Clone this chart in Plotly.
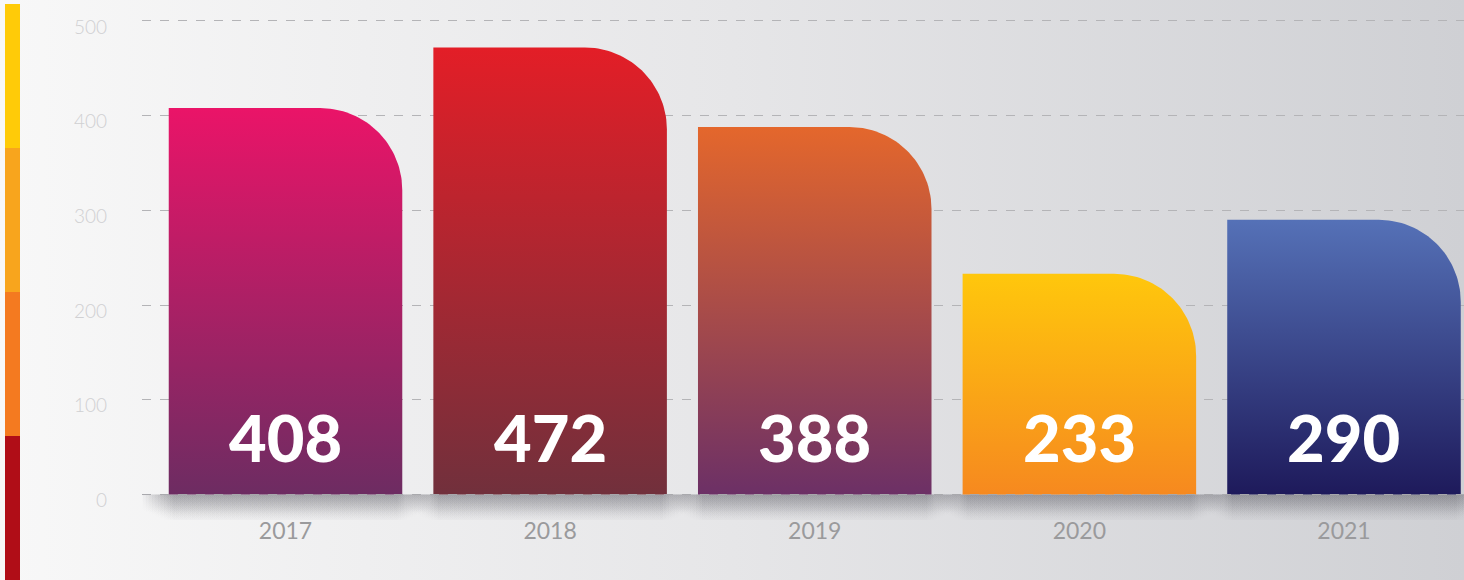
import numpy as np
import plotly.graph_objects as go

years = ["2017", "2018", "2019", "2020", "2021"]
values = [408, 472, 388, 233, 290]
y_ticks = [0, 100, 200, 300, 400, 500]

# bottom colour, top colour of each bar gradient
bar_colors = [
    ("#6d2c62", "#ea1468"),
    ("#71303c", "#e31e27"),
    ("#6c3066", "#e4672c"),
    ("#f6891f", "#ffc70c"),
    ("#1e1a5b", "#5571b7"),
]
# left strip, top to bottom
strip_colors = ["#ffcb08", "#f8a51d", "#f47a20", "#b00d17"]

WIDTH, HEIGHT = 1464, 580
PLOT_LEFT, PLOT_TOP, PLOT_BOTTOM = 142, 15, 520
X_RANGE = [-0.5423, 4.4535]
Y_RANGE = [-26.9, 506.3]
BAR_WIDTH = 0.8825
CORNER_PX = 82

px_x = (WIDTH - PLOT_LEFT) / (X_RANGE[1] - X_RANGE[0])
px_y = (PLOT_BOTTOM - PLOT_TOP) / (Y_RANGE[1] - Y_RANGE[0])


def bar_outline(center, value):
    left = center - BAR_WIDTH / 2
    right = center + BAR_WIDTH / 2
    rx = CORNER_PX / px_x
    ry = min(CORNER_PX / px_y, value)
    t = np.linspace(np.pi / 2, 0, 40)
    xs = [left, left] + list(right - rx + rx * np.cos(t)) + [right, left]
    ys = [0, value] + list(value - ry + ry * np.sin(t)) + [0, 0]
    return xs, ys


fig = go.Figure()

# page background gradient on a hidden full-page subplot
fig.add_trace(go.Scatter(
    x=[0, 1, 1, 0, 0], y=[0, 0, 1, 1, 0],
    xaxis="x", yaxis="y", mode="lines", line={"width": 0},
    fill="toself",
    fillgradient={"type": "horizontal",
                  "colorscale": [[0, "#f8f8f8"], [0.5, "#e6e6e8"], [1, "#cfd0d4"]]},
    hoverinfo="skip", showlegend=False,
))

# soft drop shadow under each bar, built from stacked faint layers
for i in range(len(years)):
    for pad in range(-4, 28, 3):
        half = BAR_WIDTH / 2 + pad / px_x
        depth = (30 - pad * 0.5) / px_y
        fig.add_trace(go.Scatter(
            x=[i - half, i + half, i + half, i - half, i - half],
            y=[0, 0, -depth, -depth, 0],
            xaxis="x2", yaxis="y2", mode="lines", line={"width": 0},
            fill="toself",
            fillgradient={"type": "vertical", "start": 0, "stop": -depth,
                          "colorscale": [[0, "rgba(60,60,70,0.05)"], [1, "rgba(60,60,70,0)"]]},
            hoverinfo="skip", showlegend=False,
        ))

for i, (year, value) in enumerate(zip(years, values)):
    bx, by = bar_outline(i, value)
    bottom, top = bar_colors[i]
    fig.add_trace(go.Scatter(
        x=bx, y=by, xaxis="x2", yaxis="y2", mode="lines", line={"width": 0},
        fill="toself",
        fillgradient={"type": "vertical", "start": 0, "stop": value,
                      "colorscale": [[0, bottom], [1, top]]},
        name=year, hovertemplate=f"{year}: {value}<extra></extra>", showlegend=False,
    ))

# dashed base line drawn over the bar bottoms
fig.add_trace(go.Scatter(
    x=X_RANGE, y=[0, 0], xaxis="x2", yaxis="y2", mode="lines",
    line={"color": "#a9a9ad", "width": 1, "dash": "dash"},
    hoverinfo="skip", showlegend=False,
))

for i, value in enumerate(values):
    fig.add_annotation(
        x=i, y=0, xref="x2", yref="y2", text=str(value), showarrow=False,
        yanchor="middle", yshift=58,
        font={"family": "Lato", "size": 65, "color": "#ffffff", "weight": 900},
    )

strip_top, strip_step = 4, 144
for k, color in enumerate(strip_colors):
    fig.add_shape(
        type="rect", xref="paper", yref="paper", layer="above",
        x0=5 / WIDTH, x1=20 / WIDTH,
        y0=1 - (strip_top + strip_step * (k + 1)) / HEIGHT,
        y1=1 - (strip_top + strip_step * k) / HEIGHT,
        fillcolor=color, line={"width": 0},
    )

fig.update_layout(
    width=WIDTH, height=HEIGHT,
    margin={"l": 0, "r": 0, "t": 0, "b": 0},
    paper_bgcolor="#efeff0",
    plot_bgcolor="rgba(0,0,0,0)",
    showlegend=False,
    xaxis={"domain": [0, 1], "range": [0, 1], "visible": False, "fixedrange": True},
    yaxis={"domain": [0, 1], "range": [0, 1], "visible": False, "fixedrange": True},
    xaxis2={
        "domain": [PLOT_LEFT / WIDTH, 1], "anchor": "y2", "range": X_RANGE,
        "tickvals": list(range(len(years))), "ticktext": years,
        "showgrid": False, "zeroline": False, "showline": False, "ticks": "",
        "ticklabelstandoff": -5,
        "tickfont": {"family": "Lato", "size": 23, "color": "#9a9a9c"},
    },
    yaxis2={
        "domain": [1 - PLOT_BOTTOM / HEIGHT, 1 - PLOT_TOP / HEIGHT], "anchor": "x2",
        "range": Y_RANGE, "tickvals": y_ticks,
        "showgrid": True, "gridcolor": "#b4b4b7", "griddash": "dash", "gridwidth": 1,
        "zeroline": False, "showline": False, "ticks": "",
        "ticklabelstandoff": 34, "ticklabelshift": 6,
        "tickfont": {"family": "Lato", "size": 19, "color": "#d0d0d2", "weight": 300},
    },
)

fig.write_html("out.html", config={"displayModeBar": False},
               post_script="document.body.style.margin='0';")
